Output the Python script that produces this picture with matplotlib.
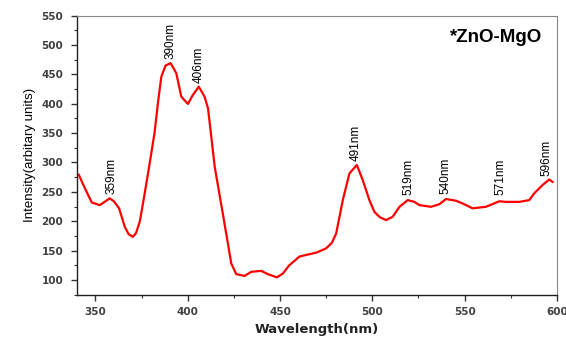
import matplotlib.pyplot as plt
from matplotlib.ticker import MultipleLocator

# spectrum
wavelength = [341, 344, 348, 352.3, 355, 357.7, 360, 362.8, 365.9, 368, 370.3, 372, 374,
              376, 378.5, 382, 384, 385.7, 388, 390.7, 392, 393.8, 396.5, 400.1, 402.8,
              406, 409.1, 411, 414.6, 419, 423.6, 426.3, 430.8, 434.4, 439.8, 443.4,
              448.3, 451.5, 455, 460.5, 466, 470, 475, 478, 480.4, 484, 487.6, 491.6,
              494.8, 498.4, 501.1, 504, 507.4, 511, 514.7, 519.2, 522.8, 525.5, 531.8,
              536.3, 539.9, 545.3, 549.8, 554.3, 561.5, 568.8, 572.3, 579.6, 585,
              587.7, 592.2, 595.8, 597.6]
intensity = [279, 258, 232, 227.5, 233, 239, 234, 222, 190.5, 178, 173.5, 180, 199,
             235, 281.5, 350, 405, 446, 465, 469, 462, 452, 412, 399.6, 415,
             429, 412, 392, 293, 213, 128, 110, 107, 114, 115.6, 110,
             104.5, 111, 125, 140, 144, 147, 154, 163, 179, 236, 281.5, 295.7,
             270, 236, 216, 207, 202, 207.6, 224.6, 236, 233, 227.5, 224.6,
             229, 237.8, 235, 229, 222, 224.6, 234, 233, 233, 236,
             247.5, 261.6, 271, 267]

peak_labels = ["359nm", "390nm", "406nm", "491nm", "519nm", "540nm", "571nm", "596nm"]
peak_x = [358.6, 390.5, 406, 491, 519.5, 539.5, 569.5, 594.5]
peak_y = [247, 476, 436, 302, 245, 246, 244, 277]

fig = plt.figure(figsize=(5.66, 3.38), dpi=100)
ax = fig.add_axes([0.136, 0.128, 0.848, 0.826])

ax.plot(wavelength, intensity, color='#ff0000', linewidth=1.6)

for lab, px, py in zip(peak_labels, peak_x, peak_y):
    ax.text(px, py, lab, rotation=90, ha='center', va='bottom',
            fontsize=8.5, family='Liberation Sans')

ax.text(0.97, 0.92, "*ZnO-MgO", transform=ax.transAxes, ha='right', va='center',
        fontsize=13.5, fontweight='bold', family='Liberation Sans')

ax.set_xlim(340, 600)
ax.set_ylim(75, 550)
ax.xaxis.set_major_locator(MultipleLocator(50))
ax.xaxis.set_minor_locator(MultipleLocator(25))
ax.yaxis.set_major_locator(MultipleLocator(50))
ax.yaxis.set_minor_locator(MultipleLocator(25))

ax.tick_params(which='major', direction='out', length=4, width=1, colors='#333333',
               labelsize=7.5)
ax.tick_params(axis='y', which='major', pad=6)
ax.tick_params(axis='x', which='major', pad=5)
ax.tick_params(which='minor', direction='out', length=2.5, width=0.8, colors='#333333')
for lbl in ax.get_xticklabels() + ax.get_yticklabels():
    lbl.set_fontweight('bold')
    lbl.set_color('#404040')

for s in ['left', 'bottom']:
    ax.spines[s].set_color('#222222')
    ax.spines[s].set_linewidth(1.0)
for s in ['top', 'right']:
    ax.spines[s].set_color('#888888')
    ax.spines[s].set_linewidth(0.8)

ax.set_xlabel("Wavelength(nm)", fontsize=9.5, fontweight='bold', color='#222222',
              labelpad=4)
ax.set_ylabel("Intensity(arbitary units)", fontsize=9.5, family='Liberation Sans',
              labelpad=4)

fig.savefig("out.png", dpi=100)
